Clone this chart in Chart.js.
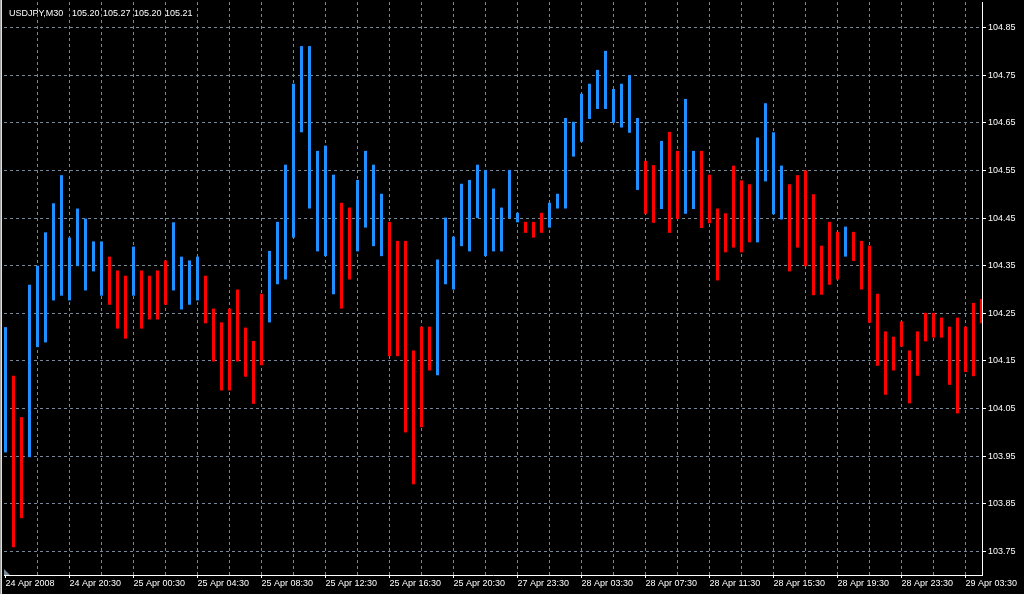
<!DOCTYPE html>
<html lang="en">
<head>
    <meta charset="UTF-8">
    <title>USDJPY,M30</title>
    <script src="https://cdn.jsdelivr.net/npm/chart.js"></script>
    <style>
        html, body { margin: 0; padding: 0; background: #000; }
        #wrap { width: 1024px; height: 594px; }
    </style>
</head>
<body>
    <div id="wrap"><canvas id="priceChart" width="1024" height="594"></canvas></div>

    <script>
        // Coloured histogram, one entry per 30 minute bar (top / bottom of each bar)
        const barHigh = [
            104.221, 104.119, 104.032, 104.310, 104.350, 104.420, 104.481, 104.540, 104.409, 104.470,
            104.449, 104.401, 104.401, 104.369, 104.340, 104.329, 104.390, 104.340, 104.329, 104.340,
            104.361, 104.441, 104.369, 104.361, 104.369, 104.329, 104.260, 104.231, 104.260, 104.300,
            104.220, 104.192, 104.291, 104.381, 104.442, 104.562, 104.732, 104.811, 104.811, 104.591,
            104.602, 104.541, 104.482, 104.472, 104.530, 104.591, 104.562, 104.501, 104.442, 104.402,
            104.402, 104.172, 104.222, 104.222, 104.363, 104.451, 104.411, 104.522, 104.530, 104.562,
            104.551, 104.512, 104.472, 104.551, 104.461, 104.442, 104.442, 104.461, 104.482, 104.501,
            104.660, 104.652, 104.711, 104.732, 104.761, 104.801, 104.721, 104.732, 104.750, 104.660,
            104.570, 104.561, 104.612, 104.631, 104.591, 104.700, 104.591, 104.591, 104.541, 104.470,
            104.460, 104.560, 104.529, 104.521, 104.619, 104.691, 104.630, 104.560, 104.521, 104.540,
            104.550, 104.500, 104.392, 104.442, 104.421, 104.432, 104.421, 104.402, 104.392, 104.291,
            104.212, 104.201, 104.233, 104.172, 104.212, 104.251, 104.251, 104.241, 104.222, 104.241,
            104.222, 104.272, 104.280
        ];
        const barLow = [
            103.958, 103.759, 103.820, 103.948, 104.179, 104.189, 104.277, 104.287, 104.277, 104.349,
            104.298, 104.338, 104.287, 104.268, 104.218, 104.197, 104.287, 104.218, 104.237, 104.237,
            104.268, 104.298, 104.258, 104.268, 104.277, 104.229, 104.149, 104.088, 104.088, 104.149,
            104.117, 104.060, 104.141, 104.231, 104.311, 104.321, 104.409, 104.630, 104.470, 104.380,
            104.370, 104.290, 104.260, 104.321, 104.380, 104.430, 104.391, 104.370, 104.160, 104.160,
            104.000, 103.891, 104.011, 104.130, 104.120, 104.311, 104.300, 104.391, 104.380, 104.450,
            104.370, 104.380, 104.380, 104.450, 104.441, 104.419, 104.409, 104.419, 104.430, 104.470,
            104.470, 104.579, 104.610, 104.658, 104.679, 104.679, 104.650, 104.640, 104.629, 104.509,
            104.459, 104.440, 104.469, 104.419, 104.448, 104.459, 104.469, 104.429, 104.439, 104.319,
            104.378, 104.388, 104.378, 104.399, 104.399, 104.527, 104.458, 104.447, 104.338, 104.388,
            104.349, 104.288, 104.289, 104.310, 104.321, 104.369, 104.360, 104.300, 104.230, 104.140,
            104.079, 104.130, 104.180, 104.061, 104.119, 104.191, 104.199, 104.199, 104.100, 104.040,
            104.127, 104.118, 104.229
        ];
        // 1 = rising (blue), 0 = falling (red)
        const barUp = [
            1, 0, 0, 1, 1, 1, 1, 1, 1, 1,
            1, 1, 1, 0, 0, 0, 1, 0, 0, 0,
            0, 1, 1, 1, 1, 0, 0, 0, 0, 0,
            0, 0, 0, 1, 1, 1, 1, 1, 1, 1,
            1, 1, 0, 0, 1, 1, 1, 1, 0, 0,
            0, 0, 0, 0, 1, 1, 1, 1, 1, 1,
            1, 1, 1, 1, 1, 0, 0, 0, 1, 1,
            1, 1, 1, 1, 1, 1, 1, 1, 1, 1,
            0, 0, 1, 0, 0, 1, 1, 0, 0, 0,
            0, 0, 0, 0, 1, 1, 1, 1, 0, 0,
            0, 0, 0, 0, 0, 1, 0, 0, 0, 0,
            0, 0, 0, 0, 0, 0, 0, 0, 0, 0,
            0, 0, 0
        ];

        // one time label every 8 bars, grid line every 4 bars
        const timeLabels = [
            '24 Apr 2008', '24 Apr 20:30', '25 Apr 00:30', '25 Apr 04:30', '25 Apr 08:30',
            '25 Apr 12:30', '25 Apr 16:30', '25 Apr 20:30', '27 Apr 23:30', '28 Apr 03:30',
            '28 Apr 07:30', '28 Apr 11:30', '28 Apr 15:30', '28 Apr 19:30', '28 Apr 23:30',
            '29 Apr 03:30'
        ];
        const priceTicks = [103.75, 103.85, 103.95, 104.05, 104.15, 104.25, 104.35, 104.45, 104.55, 104.65, 104.75, 104.85];

        const symbolName = 'USDJPY,M30';
        const lastOHLC = ['105.20', '105.27', '105.20', '105.21'];

        const BARS_PER_LABEL = 8;
        const BARS_PER_GRID = 4;

        const UP_COLOR = '#1e90ff';
        const DOWN_COLOR = '#ff0000';
        const GRID_COLOR = '#778899';
        const FONT = '"Liberation Sans", Arial, sans-serif';

        Chart.defaults.font.family = FONT;
        Chart.defaults.font.size = 9;
        Chart.defaults.color = '#ffffff';

        // frame, shift marker and the symbol line in the top-left corner
        const terminalDecor = {
            id: 'terminalDecor',
            beforeDraw(chart) {
                const ctx = chart.ctx;
                ctx.save();
                ctx.fillStyle = '#a0a0a0';
                ctx.fillRect(0, 0, 1, chart.height);
                ctx.fillStyle = '#e0e0e0';
                ctx.fillRect(1, 0, 1, chart.height);
                ctx.restore();
            },
            afterDraw(chart) {
                const ctx = chart.ctx;
                const area = chart.chartArea;
                ctx.save();
                ctx.fillStyle = GRID_COLOR;
                ctx.beginPath();
                ctx.moveTo(area.left, area.bottom - 6);
                ctx.lineTo(area.left, area.bottom);
                ctx.lineTo(area.left + 6, area.bottom);
                ctx.closePath();
                ctx.fill();

                ctx.fillStyle = '#ffffff';
                ctx.font = '9px ' + FONT;
                ctx.textBaseline = 'alphabetic';
                ctx.fillText(symbolName, 9, 15.5);
                let x = 72;
                lastOHLC.forEach(v => {
                    ctx.fillText(v, x, 15.5);
                    x += ctx.measureText(v + ' ').width + 1;
                });
                ctx.restore();
            }
        };

        const lastBar = barHigh.length - 1;

        new Chart(document.getElementById('priceChart'), {
            type: 'bar',
            data: {
                datasets: [{
                    data: barHigh.map((h, i) => ({ x: i, y: [barLow[i], h] })),
                    backgroundColor: barUp.map(u => u ? UP_COLOR : DOWN_COLOR),
                    borderWidth: 0,
                    barThickness: 3,
                    inflateAmount: 0,
                    clip: 0
                }]
            },
            options: {
                responsive: false,
                animation: false,
                layout: {
                    autoPadding: false,
                    padding: { left: 4, top: 2, right: 0, bottom: 0 }
                },
                plugins: {
                    legend: { display: false },
                    tooltip: { enabled: false }
                },
                scales: {
                    x: {
                        type: 'linear',
                        position: 'bottom',
                        offset: false,
                        min: -0.1875,
                        max: lastBar + 0.0625,
                        afterBuildTicks(axis) {
                            const ticks = [];
                            for (let v = 0; v <= (timeLabels.length - 1) * BARS_PER_LABEL; v += BARS_PER_GRID) {
                                ticks.push({ value: v });
                            }
                            axis.ticks = ticks;
                        },
                        afterFit(scale) {
                            scale.height = 19;
                            scale.paddingLeft = 0;
                            scale.paddingRight = 0;
                        },
                        ticks: {
                            autoSkip: false,
                            maxRotation: 0,
                            minRotation: 0,
                            align: 'start',
                            padding: 0,
                            color: '#ffffff',
                            callback: v => (v % BARS_PER_LABEL === 0 ? timeLabels[v / BARS_PER_LABEL] : '')
                        },
                        grid: {
                            offset: false,
                            lineWidth: 1,
                            color: ctx => (ctx.tick && ctx.tick.value > 0 ? GRID_COLOR : 'rgba(0,0,0,0)'),
                            tickColor: ctx => (ctx.tick && ctx.tick.value % BARS_PER_LABEL === 0 ? '#ffffff' : 'rgba(0,0,0,0)'),
                            tickLength: 3
                        },
                        border: { display: true, color: '#ffffff', width: 1, dash: [3, 3] }
                    },
                    y: {
                        position: 'right',
                        beginAtZero: false,
                        min: 103.70067,
                        max: 104.90353,
                        afterBuildTicks(axis) {
                            axis.ticks = priceTicks.map(v => ({ value: v }));
                        },
                        afterFit(scale) {
                            scale.width = 42;
                            scale.paddingTop = 0;
                            scale.paddingBottom = 0;
                        },
                        ticks: {
                            padding: 2,
                            color: '#ffffff',
                            callback: v => v.toFixed(2)
                        },
                        grid: {
                            lineWidth: 1,
                            color: GRID_COLOR,
                            tickColor: '#ffffff',
                            tickLength: 4
                        },
                        border: { display: true, color: '#ffffff', width: 1, dash: [3, 3] }
                    }
                }
            },
            plugins: [terminalDecor]
        });
    </script>
</body>
</html>
